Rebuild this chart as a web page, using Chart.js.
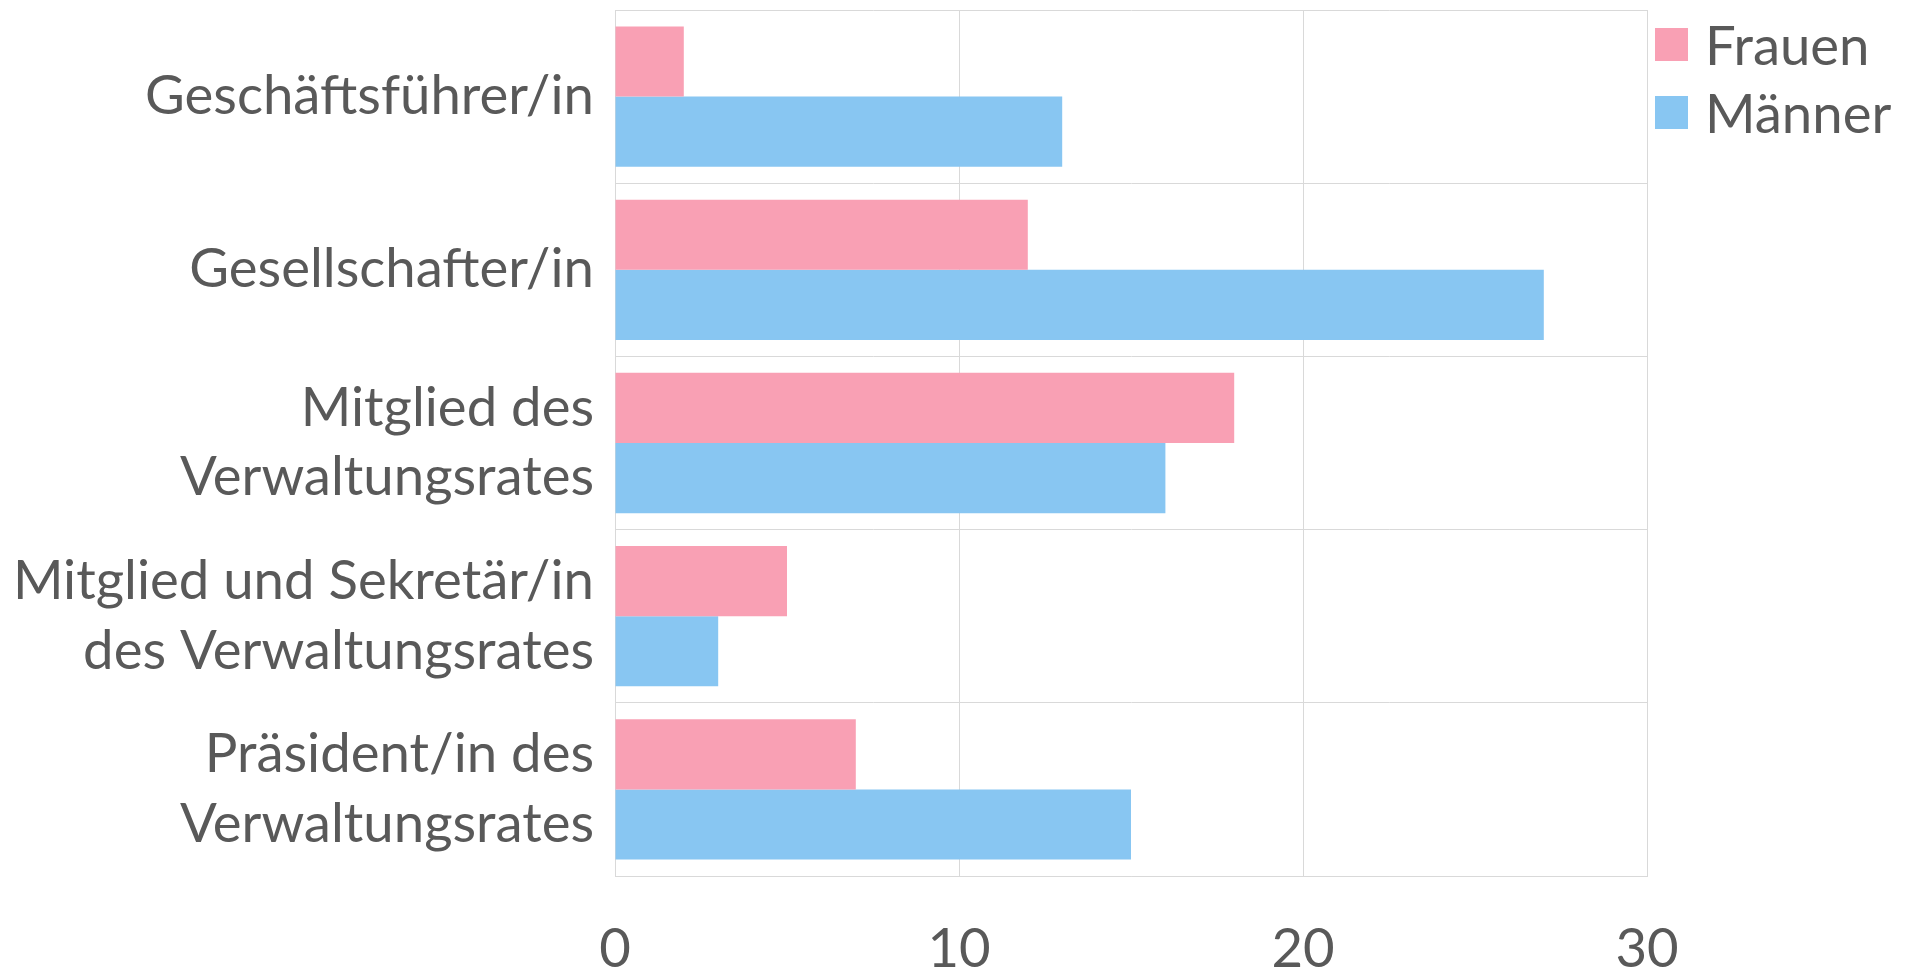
<!DOCTYPE html>
<html>
<head>
<meta charset="utf-8">
<script src="https://cdn.jsdelivr.net/npm/chart.js@4/dist/chart.umd.min.js"></script>
<style>
  body { margin: 0; background: #fff; }
  #wrap { width: 1914px; height: 975px; position: relative; }
  #legend { position: absolute; left: 1655px; top: 10px; font-family: Lato; font-size: 54.5px; color: #595959; }
  #legend .item { display: flex; align-items: center; height: 68px; white-space: nowrap; }
  #legend .box { width: 33px; height: 33px; margin-right: 17px; }
</style>
</head>
<body>
<div id="wrap"><canvas id="roles"></canvas><div id="legend"></div></div>
<script>
// categories (multi-line labels as arrays)
const categories = [
  "Geschäftsführer/in",
  "Gesellschafter/in",
  ["Mitglied des", "Verwaltungsrates"],
  ["Mitglied und Sekretär/in", "des Verwaltungsrates"],
  ["Präsident/in des", "Verwaltungsrates"]
];
const frauen = [2, 12, 18, 5, 7];
const maenner = [13, 27, 16, 3, 15];
const xTicks = [0, 10, 20, 30];

const textColor = '#595959';
const gridColor = '#d9d9d9';
const font = { family: 'Lato', size: 54.5, lineHeight: 1.28 };

// html legend, built from the chart's datasets
const htmlLegend = {
  id: 'htmlLegend',
  afterUpdate(chart) {
    const el = document.getElementById('legend');
    el.innerHTML = '';
    chart.data.datasets.forEach(ds => {
      const item = document.createElement('div');
      item.className = 'item';
      const box = document.createElement('span');
      box.className = 'box';
      box.style.background = ds.backgroundColor;
      item.appendChild(box);
      item.appendChild(document.createTextNode(ds.label));
      el.appendChild(item);
    });
  }
};

const ctx = document.getElementById("roles");
const rolesChart = new Chart(ctx, {
  type: "bar",
  data: {
    labels: categories,
    datasets: [
      { label: "Frauen", data: frauen, backgroundColor: '#f9a0b4' },
      { label: "Männer", data: maenner, backgroundColor: '#88c6f2' }
    ]
  },
  plugins: [htmlLegend],
  options: {
    indexAxis: 'y',
    responsive: true,
    maintainAspectRatio: false,
    animation: false,
    devicePixelRatio: 1,
    layout: { padding: { top: 10, left: 10, right: 267, bottom: 0 } },
    datasets: {
      bar: { categoryPercentage: 0.81, barPercentage: 1.0 }
    },
    plugins: {
      tooltip: { enabled: false },
      legend: { display: false }
    },
    scales: {
      x: {
        min: 0,
        max: 30,
        afterBuildTicks: (scale) => { scale.ticks = xTicks.map(v => ({ value: v })); },
        afterFit: (scale) => { scale.height = 99; },
        ticks: { color: textColor, font: font, padding: 39 },
        grid: { color: gridColor, drawTicks: false },
        border: { color: gridColor }
      },
      y: {
        afterFit: (scale) => {
          scale.width = 605;
          scale.paddingTop = 0;
          scale.paddingBottom = 0;
        },
        ticks: { color: textColor, font: font, padding: 21 },
        grid: { color: gridColor, drawTicks: false, offset: true },
        border: { color: gridColor }
      }
    }
  }
});
</script>
</body>
</html>
